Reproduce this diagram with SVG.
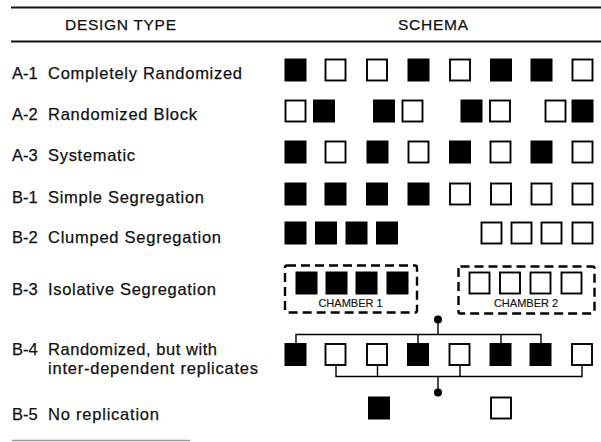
<svg xmlns="http://www.w3.org/2000/svg" width="601" height="442" viewBox="0 0 601 442">
<style>
text{font-family:"Liberation Sans",Arial,Helvetica,sans-serif;fill:#111;stroke:#111;stroke-width:0.25;}
.lab{font-size:16.5px;}
.hd{font-size:15.5px;}
.ch{font-size:11px;stroke-width:0.15;}
.b{fill:#000;stroke:#000;stroke-width:1;}
.w{fill:#fff;stroke:#000;stroke-width:1.9;}
.rule{stroke:#111;stroke-width:2;}
.cn{fill:none;stroke:#000;stroke-width:1.4;}
.dash{fill:none;stroke:#000;stroke-width:2.4;stroke-dasharray:9 5;}
</style>
<defs>
<rect id="sb" class="b" width="21" height="22"/>
<rect id="sw" class="w" width="20" height="21"/>
</defs>
<g id="header">
<line class="rule" x1="11" y1="7.5" x2="601" y2="7.5"/>
<line class="rule" x1="11" y1="41.5" x2="601" y2="41.5"/>
<text class="hd" x="65" y="30" textLength="111" lengthAdjust="spacing">DESIGN TYPE</text>
<text class="hd" x="398" y="30" textLength="70" lengthAdjust="spacing">SCHEMA</text>
</g>
<g id="row-a1">
<text class="lab" x="12" y="79">A-1</text>
<text class="lab" x="48" y="79" textLength="194" lengthAdjust="spacing">Completely Randomized</text>
<use href="#sb" x="285" y="59"/><use href="#sw" x="325.5" y="59.5"/><use href="#sw" x="367" y="59.5"/><use href="#sb" x="408" y="59"/>
<use href="#sw" x="450" y="59.5"/><use href="#sb" x="490.5" y="59"/><use href="#sb" x="531" y="59"/><use href="#sw" x="572.5" y="59.5"/>
</g>
<g id="row-a2">
<text class="lab" x="12" y="120">A-2</text>
<text class="lab" x="48" y="120" textLength="149" lengthAdjust="spacing">Randomized Block</text>
<use href="#sw" x="285.5" y="100.5"/><use href="#sb" x="313.5" y="100"/><use href="#sb" x="373.5" y="100"/><use href="#sw" x="402.5" y="100.5"/>
<use href="#sb" x="461" y="100"/><use href="#sw" x="490" y="100.5"/><use href="#sw" x="545.5" y="100.5"/><use href="#sb" x="572" y="100"/>
</g>
<g id="row-a3">
<text class="lab" x="12" y="161">A-3</text>
<text class="lab" x="48" y="161" textLength="87" lengthAdjust="spacing">Systematic</text>
<use href="#sb" x="285" y="141"/><use href="#sw" x="325.5" y="141.5"/><use href="#sb" x="367" y="141"/><use href="#sw" x="408.5" y="141.5"/>
<use href="#sb" x="449.5" y="141"/><use href="#sw" x="490.5" y="141.5"/><use href="#sb" x="531" y="141"/><use href="#sw" x="572.5" y="141.5"/>
</g>
<g id="row-b1">
<text class="lab" x="12" y="202.5">B-1</text>
<text class="lab" x="48" y="202.5" textLength="156" lengthAdjust="spacing">Simple Segregation</text>
<use href="#sb" x="285" y="183"/><use href="#sb" x="325" y="183"/><use href="#sb" x="366.5" y="183"/><use href="#sb" x="408" y="183"/>
<use href="#sw" x="450" y="183.5"/><use href="#sw" x="491" y="183.5"/><use href="#sw" x="531.5" y="183.5"/><use href="#sw" x="572.5" y="183.5"/>
</g>
<g id="row-b2">
<text class="lab" x="12" y="243">B-2</text>
<text class="lab" x="48" y="243" textLength="173" lengthAdjust="spacing">Clumped Segregation</text>
<use href="#sb" x="285" y="222"/><use href="#sb" x="315.5" y="222"/><use href="#sb" x="346" y="222"/><use href="#sb" x="376.5" y="222"/>
<use href="#sw" x="481.5" y="222.5"/><use href="#sw" x="511.5" y="222.5"/><use href="#sw" x="541.5" y="222.5"/><use href="#sw" x="572.5" y="222.5"/>
</g>
<g id="row-b3">
<text class="lab" x="12" y="295">B-3</text>
<text class="lab" x="48" y="295" textLength="168" lengthAdjust="spacing">Isolative Segregation</text>
<rect class="dash" x="285" y="265.5" width="132" height="47" rx="2"/>
<use href="#sb" x="296" y="272"/><use href="#sb" x="326" y="272"/><use href="#sb" x="356" y="272"/><use href="#sb" x="387" y="272"/>
<text class="ch" x="350.5" y="306.5" text-anchor="middle">CHAMBER 1</text>
<rect class="dash" x="458.5" y="266.5" width="136" height="47" rx="2"/>
<use href="#sw" x="469.5" y="272.5"/><use href="#sw" x="500" y="272.5"/><use href="#sw" x="530.5" y="272.5"/><use href="#sw" x="561.5" y="272.5"/>
<text class="ch" x="526" y="306.5" text-anchor="middle">CHAMBER 2</text>
</g>
<g id="row-b4">
<text class="lab" x="12" y="355">B-4</text>
<text class="lab" x="48" y="355" textLength="169" lengthAdjust="spacing">Randomized, but with</text>
<text class="lab" x="48" y="373.5" textLength="210" lengthAdjust="spacing">inter-dependent replicates</text>
<use href="#sb" x="285" y="343.5"/><use href="#sw" x="325.5" y="344"/><use href="#sw" x="367" y="344"/><use href="#sb" x="407.5" y="343.5"/>
<use href="#sw" x="449.5" y="344"/><use href="#sb" x="490" y="343.5"/><use href="#sb" x="530" y="343.5"/><use href="#sw" x="572" y="344"/>
</g>
<g id="connectors">
<circle cx="438" cy="319.5" r="4" fill="#000"/>
<path class="cn" d="M438 319.5V334.5M296 343.5V334.5H541V343.5M418 334.5V343.5M501 334.5V343.5"/>
<path class="cn" d="M336 365V376.5H582V365M377.5 365V376.5M460 365V376.5M438 376.5V392.5"/>
<circle cx="438" cy="392.5" r="4" fill="#000"/>
</g>
<g id="row-b5">
<text class="lab" x="12" y="419.5">B-5</text>
<text class="lab" x="48" y="419.5" textLength="111" lengthAdjust="spacing">No replication</text>
<use href="#sb" x="368.5" y="397"/><use href="#sw" x="491" y="397.5"/>
</g>
<line x1="12" y1="440.5" x2="190" y2="440.5" stroke="#999" stroke-width="1.5"/>
</svg>
